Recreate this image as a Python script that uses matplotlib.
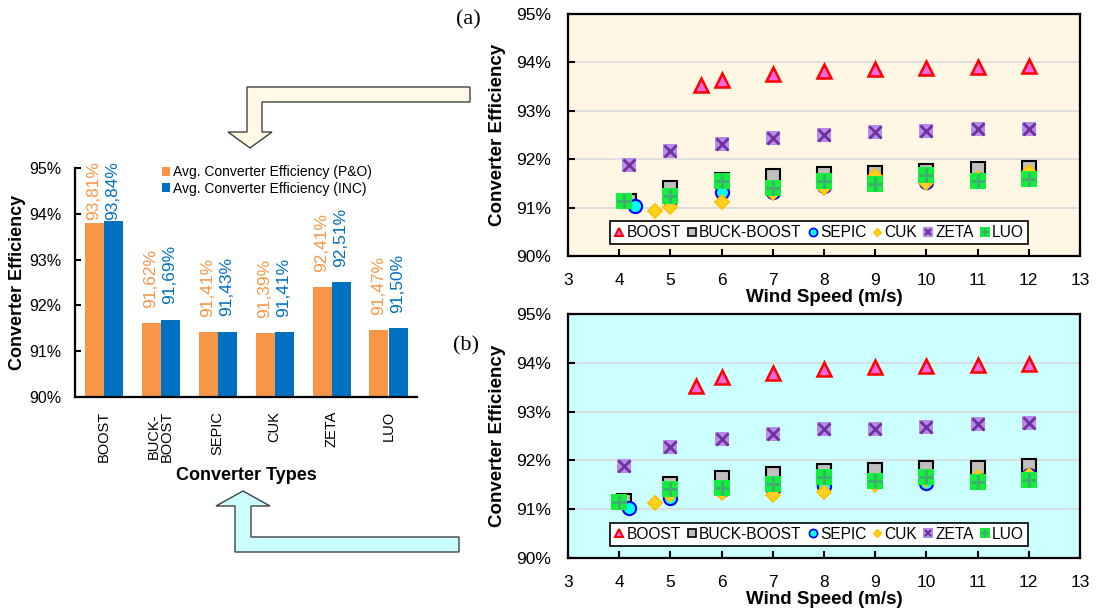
import numpy as np
import matplotlib.pyplot as plt
from matplotlib.lines import Line2D
from matplotlib.patches import Polygon
from matplotlib.legend_handler import HandlerTuple
from matplotlib.ticker import FuncFormatter, MultipleLocator

plt.rcParams['font.family'] = ['Liberation Sans', 'DejaVu Sans']

W, H = 1097, 610

# ── average efficiency per converter (bar chart) ──
converters = ["BOOST", "BUCK-\nBOOST", "SEPIC", "CUK", "ZETA", "LUO"]
eff_po = [93.81, 91.62, 91.41, 91.39, 92.41, 91.47]
eff_inc = [93.84, 91.69, 91.43, 91.41, 92.51, 91.50]

# ── (a) efficiency vs wind speed ──
ws_boost_a = [5.6, 6, 7, 8, 9, 10, 11, 12]
boost_a = [93.53, 93.64, 93.75, 93.82, 93.86, 93.89, 93.91, 93.93]
ws_buck_a = [4.2, 5, 6, 7, 8, 9, 10, 11, 12]
buck_a = [91.13, 91.41, 91.56, 91.65, 91.70, 91.71, 91.76, 91.80, 91.81]
ws_sepic_a = [4.3, 5, 6, 7, 8, 9, 10, 11, 12]
sepic_a = [91.04, 91.15, 91.33, 91.32, 91.45, 91.50, 91.52, 91.60, 91.65]
ws_cuk_a = [4.7, 5, 6, 7, 8, 9, 10, 11, 12]
cuk_a = [90.94, 91.02, 91.12, 91.30, 91.40, 91.65, 91.50, 91.62, 91.74]
ws_zeta_a = [4.2, 5, 6, 7, 8, 9, 10, 11, 12]
zeta_a = [91.89, 92.16, 92.31, 92.43, 92.50, 92.56, 92.58, 92.62, 92.62]
ws_luo_a = [4.1, 5, 6, 7, 8, 9, 10, 11, 12]
luo_a = [91.14, 91.24, 91.54, 91.41, 91.54, 91.49, 91.67, 91.55, 91.60]

# ── (b) efficiency vs wind speed ──
ws_boost_b = [5.5, 6, 7, 8, 9, 10, 11, 12]
boost_b = [93.53, 93.70, 93.80, 93.87, 93.91, 93.93, 93.95, 93.98]
ws_buck_b = [4.1, 5, 6, 7, 8, 9, 10, 11, 12]
buck_b = [91.17, 91.51, 91.64, 91.73, 91.78, 91.81, 91.84, 91.85, 91.89]
ws_sepic_b = [4.2, 5, 6, 7, 8, 9, 10, 11, 12]
sepic_b = [91.02, 91.22, 91.40, 91.42, 91.48, 91.55, 91.53, 91.62, 91.70]
ws_cuk_b = [4.7, 5, 6, 7, 8, 9, 10, 11, 12]
cuk_b = [91.13, 91.30, 91.33, 91.29, 91.35, 91.50, 91.60, 91.65, 91.70]
ws_zeta_b = [4.1, 5, 6, 7, 8, 9, 10, 11, 12]
zeta_b = [91.89, 92.28, 92.44, 92.55, 92.64, 92.64, 92.68, 92.75, 92.77]
ws_luo_b = [4.0, 5, 6, 7, 8, 9, 10, 11, 12]
luo_b = [91.14, 91.41, 91.44, 91.52, 91.67, 91.58, 91.67, 91.56, 91.60]

series_names = ["BOOST", "BUCK-BOOST", "SEPIC", "CUK", "ZETA", "LUO"]

# marker layers per converter (drawn on top of each other)
styles = {
    "BOOST": [dict(marker="^", ms=10, mfc="#FF66DD", mec="#FF0000", mew=1.8)],
    "BUCK-BOOST": [dict(marker="s", ms=10, mfc="#BFBFBF", mec="#000000", mew=1.5)],
    "SEPIC": [dict(marker="o", ms=9.5, mfc="#00FFFF", mec="#0000FF", mew=1.5)],
    "CUK": [dict(marker="D", ms=7, mfc="#FFD21F", mec="#FFC000", mew=1.2)],
    "ZETA": [dict(marker="s", ms=10.5, mfc="#B58CE8", mec="#B58CE8", mew=0),
             dict(marker="x", ms=8, mec="#7030A0", mew=2)],
    "LUO": [dict(marker="s", ms=11, mfc="#14EE3C", mec="#14EE3C", mew=0),
            dict(marker="+", ms=9.5, mec="#3DAE6E", mew=2)],
}

ORANGE = "#F79646"
BLUE = "#0070C0"

fig = plt.figure(figsize=(W / 100, H / 100), dpi=100)


def px_axes(left, top, right, bottom):
    return fig.add_axes([left / W, 1 - bottom / H, (right - left) / W, (bottom - top) / H])


def pct(v, _pos=None):
    return f"{v:.0f}%"


# ─────────────────────────────
# Bar chart of average efficiency
# ─────────────────────────────
ax_bar = px_axes(75, 168, 417, 397)
x = np.arange(len(converters))
w = 1 / 3
ax_bar.bar(x - w / 2, eff_po, w, color=ORANGE, label="Avg. Converter Efficiency (P&O)")
ax_bar.bar(x + w / 2, eff_inc, w, color=BLUE, label="Avg. Converter Efficiency (INC)")
ax_bar.set_xlim(-0.5, len(converters) - 0.5)
ax_bar.set_ylim(90, 95)
ax_bar.yaxis.set_major_locator(MultipleLocator(1))
ax_bar.yaxis.set_major_formatter(FuncFormatter(pct))
ax_bar.set_xticks(x)
ax_bar.set_xticklabels(converters, rotation=90, fontsize=10.5, linespacing=0.95)
ax_bar.tick_params(axis="x", length=0, pad=10)
ax_bar.tick_params(axis="y", direction="in", length=4, width=1.5, labelsize=11.5, pad=10)
for s in ["top", "right"]:
    ax_bar.spines[s].set_visible(False)
for s in ["left", "bottom"]:
    ax_bar.spines[s].set_linewidth(1.6)

# value labels sit above each bar, kept below the top of the chart area
LABEL_GAP = 0.33
LABEL_CEIL = 93.86
for xs, vals, col in [(x - w / 2, eff_po, ORANGE), (x + w / 2, eff_inc, BLUE)]:
    for xi, v in zip(xs, vals):
        ax_bar.text(xi, min(v + LABEL_GAP, LABEL_CEIL), f"{v:.2f}%".replace(".", ","),
                    rotation=90, ha="center", va="bottom", color=col,
                    fontsize=12.5, clip_on=False)

ax_bar.set_ylabel("Converter Efficiency", fontsize=13, fontweight="bold")
ax_bar.yaxis.set_label_coords(-0.143, 0.5)
ax_bar.set_xlabel("Converter Types", fontsize=13, fontweight="bold")
ax_bar.xaxis.set_label_coords(0.5, -0.305)
ax_bar.legend(loc="upper left", bbox_to_anchor=(162 / W, 1 - 165 / H),
              bbox_transform=fig.transFigure, frameon=False, fontsize=10,
              handlelength=0.6, handleheight=0.6, handletextpad=0.2,
              labelspacing=0.2, borderpad=0, borderaxespad=0)


# ─────────────────────────────
# Efficiency vs wind speed panels
# ─────────────────────────────
def efficiency_panel(ax, data, bg):
    ax.set_facecolor(bg)
    ax.set_xlim(3, 13)
    ax.set_ylim(90, 95)
    ax.xaxis.set_major_locator(MultipleLocator(1))
    ax.yaxis.set_major_locator(MultipleLocator(1))
    ax.yaxis.set_major_formatter(FuncFormatter(pct))
    ax.yaxis.grid(True, color="#D9D9D9", lw=1.2)
    ax.set_axisbelow(True)
    ax.tick_params(direction="in", length=5, width=1.5, labelsize=12.5, pad=12)
    for s in ax.spines.values():
        s.set_linewidth(1.6)

    handles = []
    for name, (ws, eff) in zip(series_names, data):
        for st in styles[name]:
            ax.plot(ws, eff, ls="none", zorder=3, **st)
        handles.append(tuple(Line2D([], [], ls="none", **{**st, "ms": st["ms"] * 0.62,
                                                          "mew": st["mew"] * 0.8})
                             for st in styles[name]))
    leg = ax.legend(handles, series_names, handler_map={tuple: HandlerTuple(ndivide=1)},
                    ncol=6, loc="lower center", bbox_to_anchor=(0.49, 0.05),
                    fontsize=11.2, handlelength=0.7, handletextpad=0.12,
                    columnspacing=0.35, borderpad=0.25, borderaxespad=0,
                    fancybox=False, framealpha=1, edgecolor="black")
    leg.get_frame().set_linewidth(1.2)

    ax.set_ylabel("Converter Efficiency", fontsize=13.5, fontweight="bold")
    ax.yaxis.set_label_coords(-0.121, 0.5)
    ax.set_xlabel("Wind Speed (m/s)", fontsize=13.5, fontweight="bold")
    ax.xaxis.set_label_coords(0.5, -0.135)


ax_a = px_axes(568, 14, 1080, 256)
efficiency_panel(ax_a, [(ws_boost_a, boost_a), (ws_buck_a, buck_a), (ws_sepic_a, sepic_a),
                        (ws_cuk_a, cuk_a), (ws_zeta_a, zeta_a), (ws_luo_a, luo_a)], "#FFF7E4")

ax_b = px_axes(568, 314, 1080, 558)
efficiency_panel(ax_b, [(ws_boost_b, boost_b), (ws_buck_b, buck_b), (ws_sepic_b, sepic_b),
                        (ws_cuk_b, cuk_b), (ws_zeta_b, zeta_b), (ws_luo_b, luo_b)], "#CCFFFF")

fig.text(468 / W, 1 - 20 / H, "(a)", family="Liberation Serif", fontsize=16,
         ha="center", va="center")
fig.text(466 / W, 1 - 346 / H, "(b)", family="Liberation Serif", fontsize=16,
         ha="center", va="center")


# ── bent arrows linking the panels to the bar chart ──
def bent_arrow(pts, face):
    verts = [(px / W, 1 - py / H) for px, py in pts]
    fig.patches.append(Polygon(verts, closed=True, facecolor=face, edgecolor="#404040",
                               lw=1, transform=fig.transFigure, figure=fig))


bent_arrow([(470, 87), (247, 87), (247, 132), (228, 132), (250, 148), (272, 132),
            (262, 132), (262, 102), (470, 102)], "#FFF8E4")
bent_arrow([(459, 537), (251, 537), (251, 506), (270, 506), (243, 491), (216, 506),
            (235, 506), (235, 552), (459, 552)], "#CCFFFF")

fig.savefig("out.png", dpi=100)
